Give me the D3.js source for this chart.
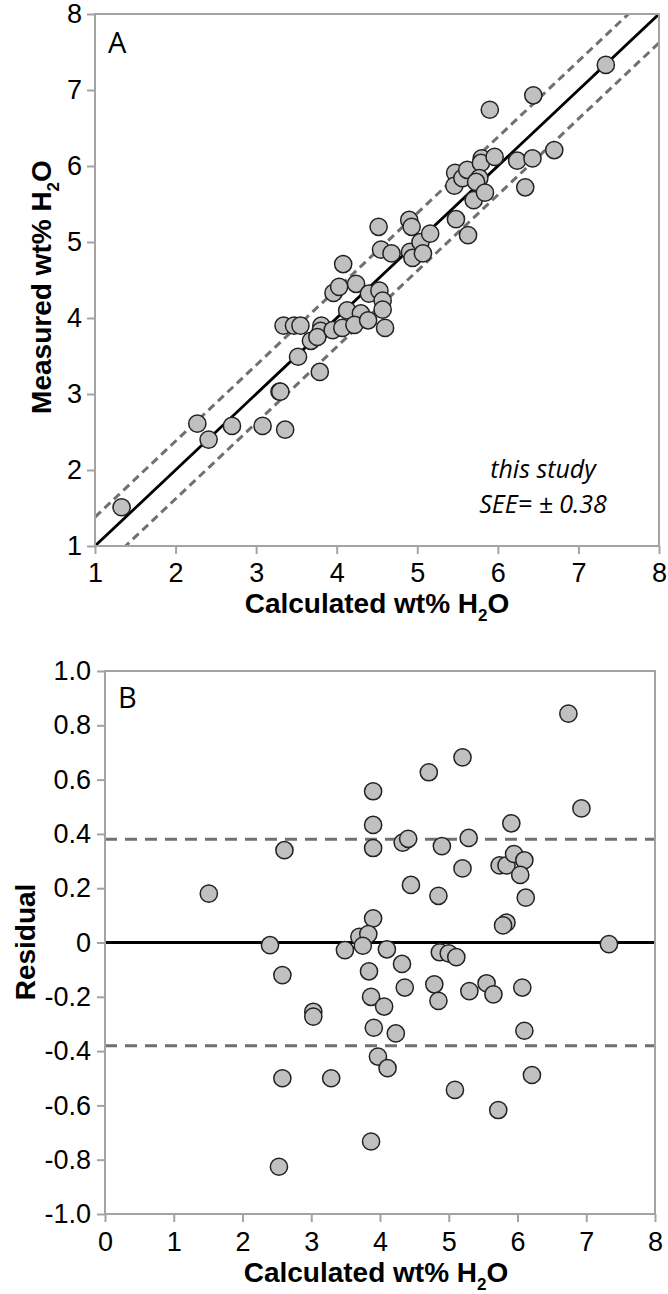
<!DOCTYPE html>
<html>
<head>
<meta charset="utf-8">
<script src="https://cdn.jsdelivr.net/npm/d3@7"></script>
<style>
  body { margin: 0; background: #fff; }
  .tick text { font-family: "Liberation Sans", Arial, sans-serif; font-size: 27px; fill: #000; }
</style>
</head>
<body>
<svg id="chart" width="668" height="1294"></svg>
<script>
// panel A: calculated vs measured wt% H2O
const calcA = [1.33, 2.27, 2.41, 2.70, 3.29, 3.30, 3.08, 3.79, 3.36, 4.52, 4.08, 3.34, 3.47, 3.96, 4.03, 3.55,
  4.55, 4.90, 4.93, 4.24, 4.68, 3.81, 3.68, 3.80, 3.76, 3.52, 4.13, 4.91, 5.04, 5.16, 4.40, 3.95, 4.53, 4.94,
  5.07, 5.48, 4.07, 4.30, 4.22, 4.57, 4.39, 4.57, 5.63, 6.44, 5.47, 5.46, 5.56, 5.62, 5.80, 5.79, 5.96, 5.77,
  5.73, 7.34, 5.70, 5.84, 6.24, 6.43, 6.70, 6.34, 5.90, 4.60];
const measA = [1.51, 2.61, 2.40, 2.58, 3.03, 3.03, 2.58, 3.29, 2.53, 5.20, 4.71, 3.90, 3.90, 4.33, 4.41, 3.90,
  4.90, 5.29, 5.20, 4.45, 4.85, 3.90, 3.70, 3.83, 3.75, 3.49, 4.10, 4.87, 5.00, 5.11, 4.32, 3.84, 4.36, 4.79,
  4.85, 5.30, 3.87, 4.06, 3.91, 4.23, 3.97, 4.11, 5.09, 6.93, 5.91, 5.74, 5.84, 5.95, 6.10, 6.04, 6.12, 5.84,
  5.79, 7.33, 5.55, 5.65, 6.07, 6.10, 6.21, 5.72, 6.74, 3.87];

// panel B: residuals
const xB = [1.51, 2.61, 2.40, 2.58, 3.03, 3.03, 2.58, 3.29, 2.53, 5.20, 4.71, 3.90, 3.90, 4.33, 4.41, 3.90,
  4.90, 5.29, 5.20, 4.45, 4.85, 3.90, 3.70, 3.83, 3.75, 3.49, 4.10, 4.87, 5.00, 5.11, 4.32, 3.84, 4.36, 4.79,
  4.85, 5.30, 3.87, 4.06, 3.91, 4.23, 3.97, 4.11, 5.09, 6.93, 5.91, 5.74, 5.84, 5.95, 6.10, 6.04, 6.12, 5.84,
  5.79, 7.33, 5.55, 5.65, 6.07, 6.10, 6.21, 5.72, 6.74, 3.87];
const residB = [0.18, 0.34, -0.01, -0.12, -0.255, -0.273, -0.50, -0.50, -0.826, 0.682, 0.627, 0.557, 0.433, 0.368,
  0.382, 0.348, 0.355, 0.385, 0.273, 0.212, 0.172, 0.089, 0.021, 0.031, -0.012, -0.028, -0.025, -0.036, -0.040,
  -0.054, -0.079, -0.106, -0.166, -0.154, -0.215, -0.179, -0.20, -0.236, -0.314, -0.335, -0.42, -0.463, -0.543,
  0.494, 0.439, 0.284, 0.284, 0.326, 0.303, 0.249, 0.165, 0.073, 0.063, -0.006, -0.15, -0.191, -0.166, -0.325,
  -0.488, -0.617, 0.843, -0.733];

const ticksA = [1, 2, 3, 4, 5, 6, 7, 8];
const ticksBx = [0, 1, 2, 3, 4, 5, 6, 7, 8];
const ticksBy = [-1, -0.8, -0.6, -0.4, -0.2, 0, 0.2, 0.4, 0.6, 0.8, 1];
const see = 0.38;

const svg = d3.select('#chart');
const frameColor = '#a3a3a3';

function addTitle(g, label) {
  g.append('tspan').text(label + ' H');
  g.append('tspan').attr('font-size', 17).attr('dy', 8).text('2');
  g.append('tspan').attr('dy', -8).text('O');
}

function styleAxis(g) {
  g.select('.domain').remove();
  g.selectAll('.tick line').attr('stroke', frameColor).attr('stroke-width', 2);
}

function drawDots(g, xs, ys, x, y) {
  g.selectAll('circle').data(xs).join('circle')
    .attr('cx', (d, i) => x(d))
    .attr('cy', (d, i) => y(ys[i]))
    .attr('r', 8.6)
    .attr('fill', '#c0c0c0')
    .attr('stroke', '#222')
    .attr('stroke-width', 1.5);
}

// ---------- panel A ----------
const xA = d3.scaleLinear().domain([1, 8]).range([95, 659]);
const yA = d3.scaleLinear().domain([1, 8]).range([546, 14]);
const intFmt = d3.format('d');

svg.append('clipPath').attr('id', 'clipA')
  .append('rect').attr('x', 95).attr('y', 14).attr('width', 564).attr('height', 532);

svg.append('g').attr('transform', 'translate(0,546)')
  .call(d3.axisBottom(xA).tickValues(ticksA).tickFormat(intFmt).tickSize(8).tickPadding(9).tickSizeOuter(0))
  .call(styleAxis);
svg.append('g').attr('transform', 'translate(95,0)')
  .call(d3.axisLeft(yA).tickValues(ticksA).tickFormat(intFmt).tickSize(8).tickPadding(5).tickSizeOuter(0))
  .call(styleAxis);

const linesA = svg.append('g').attr('clip-path', 'url(#clipA)');
const diag = d3.line().x(d => xA(d[0])).y(d => yA(d[1]));
linesA.append('path').attr('d', diag([[1, 1 + see], [8, 8 + see]]))
  .attr('stroke', '#707070').attr('stroke-width', 3).attr('stroke-dasharray', '8,5').attr('fill', 'none');
linesA.append('path').attr('d', diag([[1, 1 - see], [8, 8 - see]]))
  .attr('stroke', '#707070').attr('stroke-width', 3).attr('stroke-dasharray', '8,5').attr('fill', 'none');
linesA.append('path').attr('d', diag([[1, 1], [8, 8]]))
  .attr('stroke', '#000').attr('stroke-width', 2.8).attr('fill', 'none');

svg.append('rect').attr('x', 95).attr('y', 14).attr('width', 564).attr('height', 532)
  .attr('fill', 'none').attr('stroke', frameColor).attr('stroke-width', 2);

drawDots(svg.append('g'), calcA, measA, xA, yA);

svg.append('text').attr('x', 108).attr('y', 53)
  .attr('font-family', '"Open Sans", sans-serif').attr('font-size', 29).text('A');

const note = svg.append('g').attr('font-family', '"Open Sans", sans-serif')
  .attr('font-style', 'italic').attr('font-size', 25).attr('text-anchor', 'middle');
note.append('text').attr('x', 543).attr('y', 478).text('this study');
note.append('text').attr('x', 543).attr('y', 513).text('SEE= \u00b1 ' + see.toFixed(2));

svg.append('text').attr('x', 377).attr('y', 613)
  .attr('font-family', '"Liberation Sans", Arial, sans-serif').attr('font-weight', 'bold')
  .attr('font-size', 28).attr('text-anchor', 'middle')
  .call(addTitle, 'Calculated wt%');
svg.append('text').attr('transform', 'translate(51,287) rotate(-90)')
  .attr('font-family', '"Liberation Sans", Arial, sans-serif').attr('font-weight', 'bold')
  .attr('font-size', 28).attr('text-anchor', 'middle')
  .call(addTitle, 'Measured wt%');

// ---------- panel B ----------
const xBs = d3.scaleLinear().domain([0, 8]).range([105, 655]);
const yBs = d3.scaleLinear().domain([-1, 1]).range([1214, 671]);

svg.append('g').attr('transform', 'translate(0,1214)')
  .call(d3.axisBottom(xBs).tickValues(ticksBx).tickFormat(intFmt).tickSize(8).tickPadding(10).tickSizeOuter(0))
  .call(styleAxis);
svg.append('g').attr('transform', 'translate(105,0)')
  .call(d3.axisLeft(yBs).tickValues(ticksBy).tickSize(8).tickPadding(6).tickSizeOuter(0)
    .tickFormat(d => d === 0 ? '0' : d.toFixed(1)))
  .call(styleAxis);

[see, -see].forEach(v => {
  svg.append('line').attr('x1', 105).attr('x2', 655).attr('y1', yBs(v)).attr('y2', yBs(v))
    .attr('stroke', '#707070').attr('stroke-width', 3).attr('stroke-dasharray', '12,8');
});
svg.append('line').attr('x1', 105).attr('x2', 655).attr('y1', yBs(0)).attr('y2', yBs(0))
  .attr('stroke', '#000').attr('stroke-width', 3);

svg.append('rect').attr('x', 105).attr('y', 671).attr('width', 550).attr('height', 543)
  .attr('fill', 'none').attr('stroke', frameColor).attr('stroke-width', 2);

drawDots(svg.append('g'), xB, residB, xBs, yBs);

svg.append('text').attr('x', 118).attr('y', 708)
  .attr('font-family', '"Open Sans", sans-serif').attr('font-size', 29).text('B');

svg.append('text').attr('x', 376).attr('y', 1282)
  .attr('font-family', '"Liberation Sans", Arial, sans-serif').attr('font-weight', 'bold')
  .attr('font-size', 28).attr('text-anchor', 'middle')
  .call(addTitle, 'Calculated wt%');
svg.append('text').attr('transform', 'translate(35,942) rotate(-90)')
  .attr('font-family', '"Liberation Sans", Arial, sans-serif').attr('font-weight', 'bold')
  .attr('font-size', 28).attr('text-anchor', 'middle')
  .text('Residual');
</script>
</body>
</html>
